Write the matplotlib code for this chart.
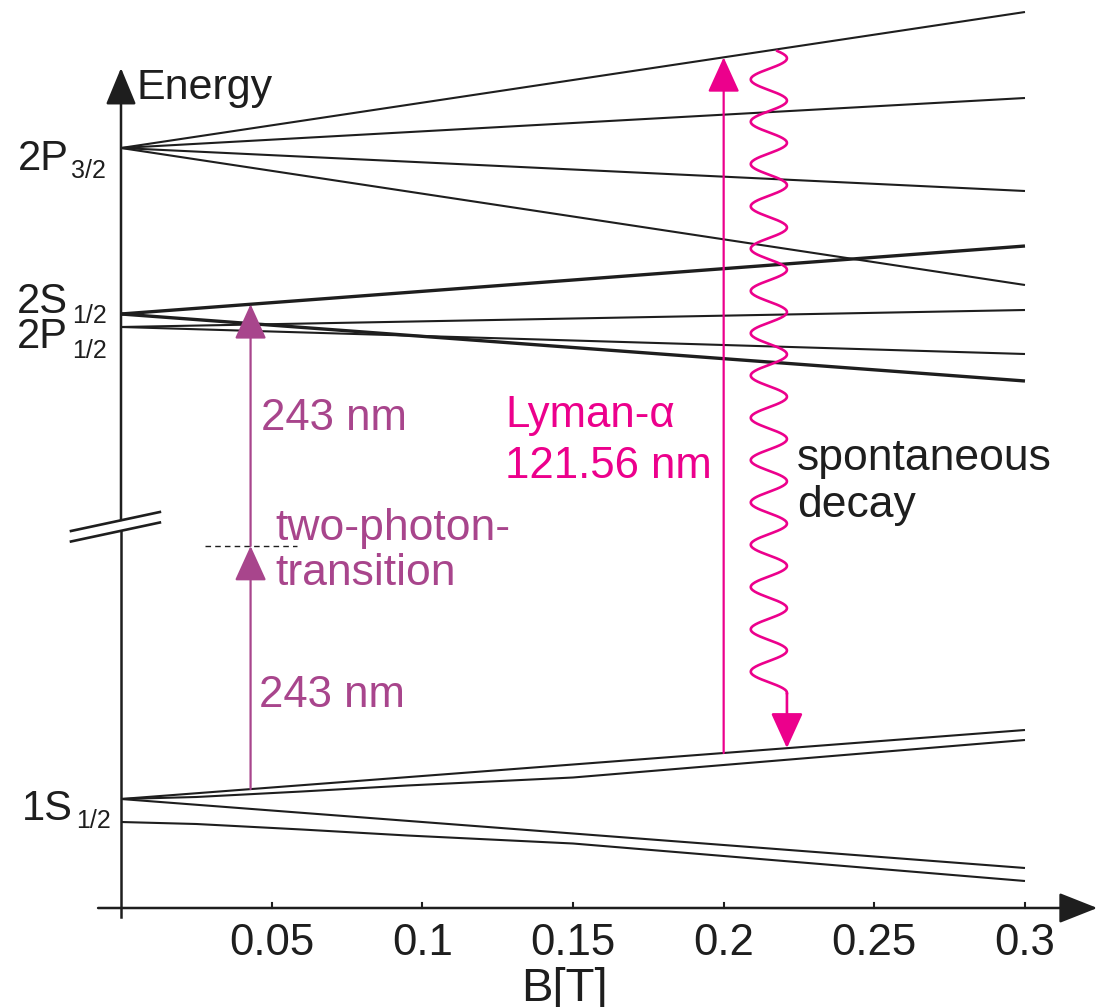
import numpy as np
import matplotlib
matplotlib.use("Agg")
import matplotlib.pyplot as plt
from matplotlib.patches import FancyArrowPatch

plt.rcParams['font.family'] = ['Liberation Sans', 'DejaVu Sans']

# Zeeman levels of hydrogen (energy in arbitrary units), B in tesla
B_lin = [0.0, 0.3]
p32_E = [[760, 896], [760, 810], [760, 717], [760, 623]]   # 2P3/2
s2_E = [[594, 662], [594, 527]]                            # 2S1/2 (thick)
p12_E = [[581, 598], [581, 554]]                           # 2P1/2
s1_lin_E = [[109, 178], [109, 40]]                         # 1S1/2 linear
B_curve = [0.0, 0.025, 0.06, 0.095, 0.15, 0.3]
s1_curve_E = [[109, 111, 116.5, 122.5, 130.5, 168],        # 1S1/2 curved
              [86, 84, 78.5, 72.5, 64.5, 27]]

ticks = [0.05, 0.1, 0.15, 0.2, 0.25, 0.3]
tick_labels = ['0.05', '0.1', '0.15', '0.2', '0.25', '0.3']

B_2photon = 0.043
E_virtual = 362
B_lyman = 0.2
B_decay = 0.221

PURPLE = '#a8458c'
MAGENTA = '#ec008c'
BLACK = '#1e1e1e'

W, H = 1103, 1007
fig = plt.figure(figsize=(W / 100, H / 100), dpi=100)
ax = fig.add_axes([0, 0, 1, 1])
ax.set_xlim(-121 / 3013.3, (W - 121) / 3013.3)
ax.set_ylim(-99, 908)
ax.axis('off')


def px(x, y):
    return x / W, 1 - y / H


def arrow(x0, y0, x1, y1, color, lw=1.6, hl=22, hw=10):
    a = FancyArrowPatch((x0, y0), (x1, y1),
                        arrowstyle='-|>,head_length=%g,head_width=%g' % (hl, hw),
                        mutation_scale=1, color=color, lw=lw,
                        shrinkA=0, shrinkB=0, zorder=5)
    ax.add_patch(a)


# levels
for E in p32_E + p12_E + s1_lin_E:
    ax.plot(B_lin, E, color=BLACK, lw=1.5, solid_capstyle='butt')
for E in s2_E:
    ax.plot(B_lin, E, color=BLACK, lw=2.4, solid_capstyle='butt')
for E in s1_curve_E:
    ax.plot(B_curve, E, color=BLACK, lw=1.5, solid_capstyle='butt')

# axes with arrows
arrow(-0.0076, 0, 0.324, 0, BLACK, lw=1.8, hl=24, hw=9.5)
ax.plot([0, 0], [-9, 377.5], color=BLACK, lw=1.8)
arrow(0, 388, 0, 840, BLACK, lw=1.8, hl=23, hw=9.5)
for t, lab in zip(ticks, tick_labels):
    ax.plot([t, t], [0, 5], color=BLACK, lw=1.5)
    ax.text(t, -47, lab, ha='center', va='baseline', fontsize=31.5, color=BLACK)
# axis break marks
for dE in (0, 10.5):
    ax.plot([-0.0166, 0.0129], [366.5 + dE, 385.5 + dE], color=BLACK, lw=1.9)

# two-photon transition
e_lo = np.interp(B_2photon, B_lin, s1_lin_E[0])
e_hi = np.interp(B_2photon, B_lin, s2_E[0])
arrow(B_2photon, e_lo, B_2photon, E_virtual, PURPLE)
arrow(B_2photon, E_virtual, B_2photon, e_hi, PURPLE)
ax.plot([B_2photon - 0.015, B_2photon + 0.0155], [E_virtual, E_virtual],
        color=BLACK, lw=1.0, ls=(0, (4, 3)))

# Lyman-alpha
e_lo = np.interp(B_lyman, B_lin, s1_lin_E[0])
e_hi = np.interp(B_lyman, B_lin, p32_E[0])
arrow(B_lyman, e_lo, B_lyman, e_hi, MAGENTA)

# spontaneous decay (wavy)
amp = 0.006
period = 42.3
E_w = np.linspace(857, 215, 900)
B_w = B_decay - amp + amp * np.cos(2 * np.pi * (849.7 - E_w) / period)
ax.plot(B_w, E_w, color=MAGENTA, lw=1.9)
e_end = np.interp(B_decay, B_lin, s1_lin_E[0])
arrow(B_decay, 215, B_decay, e_end, MAGENTA, lw=1.9)

# texts
fig.text(*px(137, 99), 'Energy', fontsize=31, color=BLACK, va='baseline')
fig.text(*px(564, 1001), 'B[T]', fontsize=34, color=BLACK, va='baseline', ha='center')

levels = [('2P', '3/2', 18, 170, 71, 178), ('2S', '1/2', 17, 313, 72, 323),
          ('2P', '1/2', 17, 348, 72, 358), ('1S', '1/2', 22, 820, 76, 828)]
for main, sub, x0, y0, x1, y1 in levels:
    fig.text(*px(x0, y0), main, fontsize=30, color=BLACK, va='baseline')
    fig.text(*px(x1, y1), sub, fontsize=18, color=BLACK, va='baseline')

fig.text(*px(261, 430), '243 nm', fontsize=31.5, color=PURPLE, va='baseline')
fig.text(*px(259, 707), '243 nm', fontsize=31.5, color=PURPLE, va='baseline')
fig.text(*px(275, 540), 'two-photon-', fontsize=32, color=PURPLE, va='baseline')
fig.text(*px(275, 585), 'transition', fontsize=32, color=PURPLE, va='baseline')
fig.text(*px(505, 427), 'Lyman-\u03b1', fontsize=31.5, color=MAGENTA, va='baseline')
fig.text(*px(505, 478), '121.56 nm', fontsize=31.5, color=MAGENTA, va='baseline')
fig.text(*px(797, 470), 'spontaneous', fontsize=32, color=BLACK, va='baseline')
fig.text(*px(797, 517), 'decay', fontsize=32, color=BLACK, va='baseline')

fig.savefig('out.png', dpi=100)
